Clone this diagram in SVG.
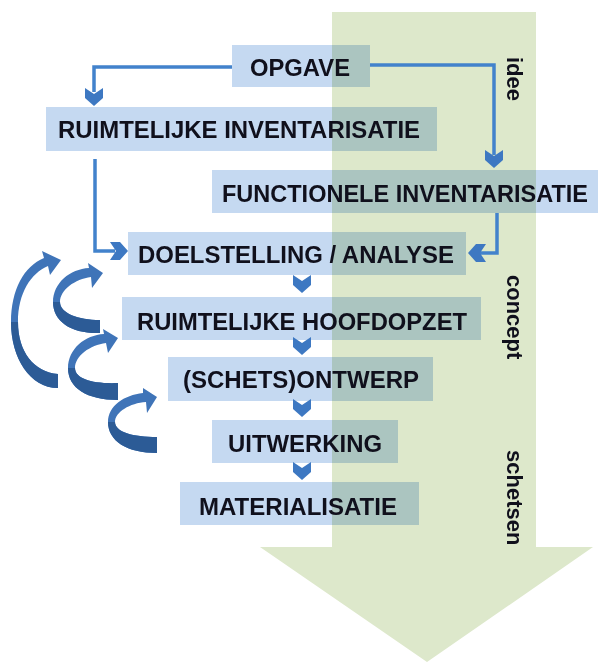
<svg xmlns="http://www.w3.org/2000/svg" width="600" height="663" viewBox="0 0 600 663">
<defs>
<style>
.box{fill:#c5d9f1;mix-blend-mode:multiply}
.lbl{font-family:"Liberation Sans",Arial,sans-serif;font-weight:bold;font-size:24.5px;fill:#10101c}
.side{font-family:"Liberation Sans",Arial,sans-serif;font-weight:bold;font-size:22px;fill:#10101c}
.ln{fill:none;stroke:#4282cc;stroke-width:3.5}
.chev{fill:#3d78c2}
.ca{fill:#3f74b8}
.cd{fill:#2c5b96}
</style>
<polygon id="chevD" points="-9,-18 0,-12 9,-18 9,-8 0,0 -9,-8"/>
</defs>
<rect width="600" height="663" fill="#ffffff"/>
<g id="phase-arrow">
<polygon points="332,12 536,12 536,547 593,547 427,662 260,547 332,547" fill="#dde8cb"/>
</g>
<g id="n-opgave"><rect class="box" x="232" y="45" width="138" height="42"/><text class="lbl" x="250" y="76" textLength="100" lengthAdjust="spacingAndGlyphs">OPGAVE</text></g>
<g id="n-ruimtelijke-inv"><rect class="box" x="46" y="107" width="391" height="44"/><text class="lbl" x="58" y="138" textLength="362" lengthAdjust="spacingAndGlyphs">RUIMTELIJKE INVENTARISATIE</text></g>
<g id="n-functionele-inv"><rect class="box" x="212" y="170" width="386" height="43"/><text class="lbl" x="222" y="202" style="font-size:23.2px" textLength="366" lengthAdjust="spacingAndGlyphs">FUNCTIONELE INVENTARISATIE</text></g>
<g id="n-doelstelling"><rect class="box" x="128" y="232" width="338" height="43"/><text class="lbl" x="138" y="263" textLength="316" lengthAdjust="spacingAndGlyphs">DOELSTELLING / ANALYSE</text></g>
<g id="n-hoofdopzet"><rect class="box" x="122" y="297" width="359" height="43"/><text class="lbl" x="137" y="330" textLength="330" lengthAdjust="spacingAndGlyphs">RUIMTELIJKE HOOFDOPZET</text></g>
<g id="n-ontwerp"><rect class="box" x="168" y="357" width="265" height="44"/><text class="lbl" x="183" y="388" textLength="236" lengthAdjust="spacingAndGlyphs">(SCHETS)ONTWERP</text></g>
<g id="n-uitwerking"><rect class="box" x="212" y="420" width="186" height="43"/><text class="lbl" x="228" y="452" textLength="154" lengthAdjust="spacingAndGlyphs">UITWERKING</text></g>
<g id="n-materialisatie"><rect class="box" x="180" y="482" width="239" height="43"/><text class="lbl" x="199" y="515" textLength="198" lengthAdjust="spacingAndGlyphs">MATERIALISATIE</text></g>
<g id="connectors">
<path class="ln" d="M232,67 H94 V92"/>
<use href="#chevD" class="chev" transform="translate(94,106)"/>
<path class="ln" d="M370,65 H494 V155"/>
<use href="#chevD" class="chev" transform="translate(494,168)"/>
<path class="ln" d="M95,159 V251 H115"/>
<use href="#chevD" class="chev" transform="translate(128,251) rotate(-90)"/>
<path class="ln" d="M497,213 V253 H480"/>
<use href="#chevD" class="chev" transform="translate(468,253) rotate(90)"/>
<use href="#chevD" class="chev" transform="translate(302,293)"/>
<use href="#chevD" class="chev" transform="translate(302,355)"/>
<use href="#chevD" class="chev" transform="translate(302,417)"/>
<use href="#chevD" class="chev" transform="translate(302,480)"/>
</g>
<g id="loop-arrows">
<g id="loop-a">
<path class="ca" d="M58,388 C30,388 11,358 11,322 C11,290 24,266 44,258 L42,251 L61,260 L50,275 L48,266 C31,273 18,293 18,322 C18,352 34,372 58,374 Z"/>
<path class="cd" d="M58,388 C30,388 11,358 11,322 L18,322 C18,352 34,372 58,374 Z"/>
</g>
<g id="loop-b" transform="translate(53,302)">
<path class="ca" d="M47,31 C19,32 0,20 0,0 C0,-19 17,-33 36,-34 L35,-39 L50,-29 L39,-14 L38,-25 C22,-23 7,-12 7,0 C7,11 25,18 47,18 Z"/>
<path class="cd" d="M47,31 C19,32 0,20 0,0 L7,0 C7,11 25,18 47,18 Z"/>
</g>
<g id="loop-c" transform="translate(68,368)">
<path class="ca" d="M50,32 C19,32 0,20 0,0 C0,-19 17,-33 36,-34 L35,-39 L50,-30 L40,-15 L38,-25 C22,-23 7,-12 7,0 C7,11 25,16 50,15 Z"/>
<path class="cd" d="M50,32 C19,32 0,20 0,0 L7,0 C7,11 25,16 50,15 Z"/>
</g>
<g id="loop-d" transform="translate(108,422)">
<path class="ca" d="M49,31 C19,31 0,19 0,0 C0,-16 16,-27 35,-29 L35,-34 L49,-25 L39,-9 L38,-20 C22,-19 7,-10 7,0 C7,10 25,15 49,15 Z"/>
<path class="cd" d="M49,31 C19,31 0,19 0,0 L7,0 C7,10 25,15 49,15 Z"/>
</g>
</g>
<g id="phase-labels">
<text class="side" transform="translate(507,57) rotate(90)">idee</text>
<text class="side" transform="translate(507,275) rotate(90)">concept</text>
<text class="side" transform="translate(507,450) rotate(90)">schetsen</text>
</g>
</svg>
